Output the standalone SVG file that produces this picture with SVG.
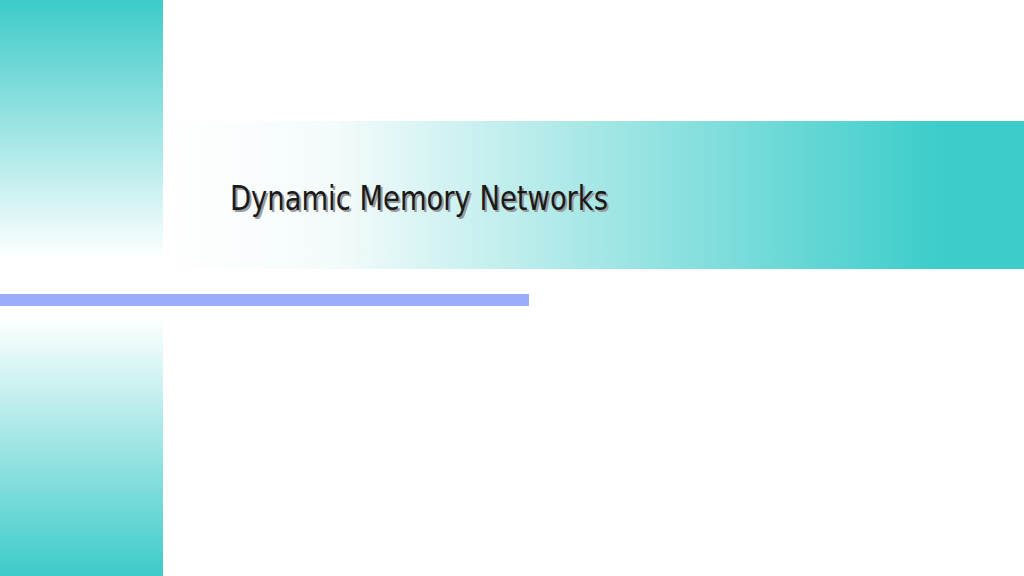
<svg xmlns="http://www.w3.org/2000/svg" width="1024" height="576" viewBox="0 0 1024 576">
<defs>
<linearGradient id="lv" x1="0" y1="0" x2="0" y2="1">
<stop offset="0" stop-color="#3ccbc9"/>
<stop offset="0.45" stop-color="#ffffff"/>
<stop offset="0.55" stop-color="#ffffff"/>
<stop offset="1" stop-color="#3ccbc9"/>
</linearGradient>
<linearGradient id="hb" x1="0" y1="0" x2="1" y2="0">
<stop offset="0" stop-color="#ffffff"/>
<stop offset="0.2" stop-color="#f4fbfb"/>
<stop offset="0.9" stop-color="#3ccdca"/>
<stop offset="1" stop-color="#3ccdca"/>
</linearGradient>
<style>.t{font-family:"DejaVu Sans Condensed","Liberation Sans",sans-serif;font-size:34px}</style>
</defs>
<rect width="1024" height="576" fill="#ffffff"/>
<rect x="0" y="0" width="163" height="576" fill="url(#lv)"/>
<rect x="163" y="121" width="861" height="148" fill="url(#hb)"/>
<rect x="0" y="294" width="529" height="12" fill="#97adfb"/>
<g id="title">
<text class="t" x="232" y="212" fill="#9a9a9a" textLength="378" lengthAdjust="spacingAndGlyphs">Dynamic Memory Networks</text>
<text class="t" x="230" y="210" fill="#1a1a1a" textLength="378" lengthAdjust="spacingAndGlyphs">Dynamic Memory Networks</text>
</g>
</svg>
